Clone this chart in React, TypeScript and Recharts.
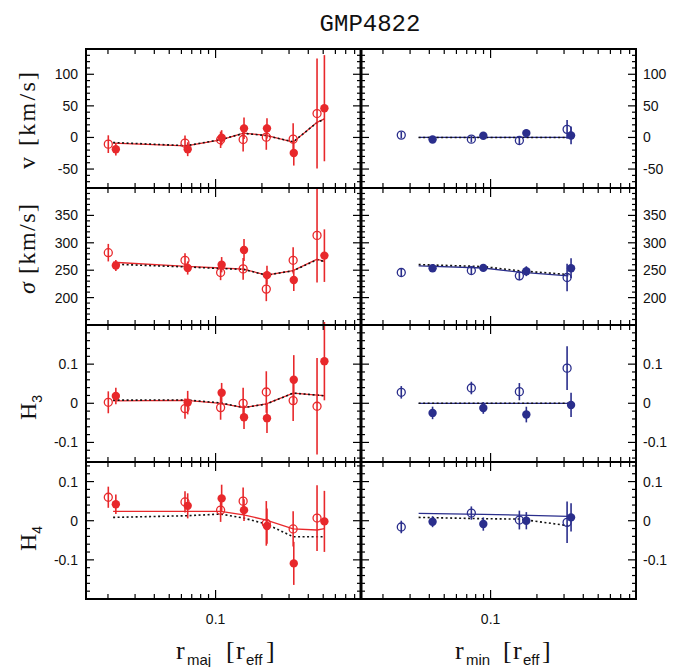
import React from 'react';
import { ComposedChart, Scatter, Line, XAxis, YAxis, ErrorBar } from 'recharts';

const RED = '#e8282b';
const BLUE = '#2a2e8c';

// ---------- x (radius) values ----------
const majOpenR = [0.0201, 0.0633, 0.1078, 0.151, 0.2135, 0.319, 0.456];
const majFillR = [0.0225, 0.0659, 0.1095, 0.153, 0.2157, 0.322, 0.509];
const majModelR = [0.0216, 0.0646, 0.108, 0.152, 0.2135, 0.319, 0.456, 0.509];
const minOpenR = [0.0263, 0.075, 0.1538, 0.314];
const minFillR = [0.042, 0.0897, 0.1707, 0.3332];
const minModelR = [0.0341, 0.0897, 0.1538, 0.32];

// ---------- major axis (red) ----------
const vMajOpen = [-10.6, -9, -3.7, -3.2, 0.5, -2.7, 37.8];
const vMajOpenErr = [14, 12, 13, 19, 20, 25, 87];
const vMajFill = [-18.6, -18.6, -0.5, 14.4, 14.4, -24.5, 46.3];
const vMajFillErr = [10, 11, 12, 17, 16, 20, 84];
const vMajModel = [-9, -13.3, -3.7, 6.9, 3.2, -7.4, 24, 29.3];
const vMajModelDot = [-8, -13, -3.5, 6.5, 3, -7, 23.5, 29];

const sMajOpen = [282, 268, 245.8, 252.4, 215.5, 268, 313.5];
const sMajOpenErr = [16, 13, 14, 20, 22, 24, 86];
const sMajFill = [258.5, 254, 260, 287, 241, 232, 276.6];
const sMajFillErr = [10, 12, 14, 20, 17, 20, 48];
const sMajModel = [264.5, 257, 254, 252, 241, 249.4, 270, 266];
const sMajModelDot = [261, 256, 253, 251.5, 241, 249, 269, 266];

const h3MajOpen = [0.0025, -0.0136, -0.011, 0, 0.0288, 0.0068, -0.0076];
const h3MajOpenErr = [0.028, 0.026, 0.031, 0.04, 0.053, 0.052, 0.123];
const h3MajFill = [0.0186, 0.0017, 0.027, -0.0356, -0.038, 0.06, 0.1076];
const h3MajFillErr = [0.021, 0.03, 0.025, 0.03, 0.038, 0.063, 0.1];
const h3MajModel = [0.006, 0.0076, 0, -0.011, -0.0017, 0.026, 0.021, 0.0195];
const h3MajModelDot = [0.008, 0.0085, 0.001, -0.011, -0.002, 0.026, 0.021, 0.019];

const h4MajOpen = [0.06, 0.048, 0.027, 0.05, -0.0068, -0.021, 0.0068];
const h4MajOpenErr = [0.027, 0.027, 0.03, 0.035, 0.057, 0.045, 0.084];
const h4MajFill = [0.042, 0.038, 0.057, 0.027, -0.0136, -0.109, -0.0017];
const h4MajFillErr = [0.025, 0.032, 0.035, 0.028, 0.045, 0.055, 0.078];
const h4MajModel = [0.0237, 0.0237, 0.0237, 0.015, 0.0017, -0.021, -0.0237, -0.02];
const h4MajModelDot = [0.0085, 0.0127, 0.017, 0.0068, -0.0085, -0.041, -0.041, -0.041];

// ---------- minor axis (blue) ----------
const vMinOpen = [3.7, -2.7, -4.8, 12.8];
const vMinOpenErr = [5, 5, 6, 15];
const vMinFill = [-3.2, 2.7, 6.9, 3.2];
const vMinFillErr = [3, 4, 4, 14];
const vMinModel = [0, 0, 0, 0];
const vMinModelDot = [0, 0, 0, 0];

const sMinOpen = [245.8, 249.4, 239.7, 236.7];
const sMinOpenErr = [7, 7, 8, 25];
const sMinFill = [253.6, 254.2, 248.2, 253.6];
const sMinFillErr = [5, 5, 9, 18];
const sMinModel = [258, 254, 246.5, 239.7];
const sMinModelDot = [260.3, 256.6, 249, 242.1];

const h3MinOpen = [0.028, 0.039, 0.0297, 0.0898];
const h3MinOpenErr = [0.016, 0.016, 0.022, 0.056];
const h3MinFill = [-0.0246, -0.0119, -0.0288, -0.0042];
const h3MinFillErr = [0.016, 0.015, 0.02, 0.031];
const h3MinModel = [0, 0, 0, 0];
const h3MinModelDot = [0, 0, 0, 0];

const h4MinOpen = [-0.016, 0.0195, 0.0017, -0.0042];
const h4MinOpenErr = [0.016, 0.017, 0.024, 0.053];
const h4MinFill = [-0.0025, -0.0085, 0, 0.0085];
const h4MinFillErr = [0.014, 0.017, 0.022, 0.036];
const h4MinModel = [0.0186, 0.0161, 0.0144, 0.011];
const h4MinModelDot = [0.0085, 0.0051, 0.0042, -0.0127];

// ---------- axes ----------
const X_DOMAIN = [0.0144, 0.88];
const xTicks = [0.02, 0.03, 0.04, 0.05, 0.06, 0.07, 0.08, 0.09, 0.1, 0.2, 0.3, 0.4, 0.5, 0.6, 0.7, 0.8];
const xMajorTicks = [0.1];
const xTickLabels = ['0.1'];

const vDomain = [-80, 140];
const vTicks = [-70, -60, -50, -40, -30, -20, -10, 0, 10, 20, 30, 40, 50, 60, 70, 80, 90, 100, 110, 120, 130];
const vMajorTicks = [-50, 0, 50, 100];
const vTickLabels = ['-50', '0', '50', '100'];

const sDomain = [150, 400];
const sTicks = [160, 170, 180, 190, 200, 210, 220, 230, 240, 250, 260, 270, 280, 290, 300, 310, 320, 330, 340, 350, 360, 370, 380, 390];
const sMajorTicks = [200, 250, 300, 350];
const sTickLabels = ['200', '250', '300', '350'];

const h3Domain = [-0.15, 0.2];
const h3Ticks = [-0.14, -0.12, -0.1, -0.08, -0.06, -0.04, -0.02, 0, 0.02, 0.04, 0.06, 0.08, 0.1, 0.12, 0.14, 0.16, 0.18];
const h4Domain = [-0.2, 0.15];
const h4Ticks = [-0.18, -0.16, -0.14, -0.12, -0.1, -0.08, -0.06, -0.04, -0.02, 0, 0.02, 0.04, 0.06, 0.08, 0.1, 0.12, 0.14];
const hMajorTicks = [-0.1, 0, 0.1];
const hTickLabels = ['-0.1', '0', '0.1'];

// ---------- layout ----------
const W = 690;
const H = 667;
const COLS = [{ x: 86, w: 275 }, { x: 361, w: 275 }];
const ROWS = [{ y: 49, h: 139 }, { y: 188, h: 137 }, { y: 325, h: 137 }, { y: 462, h: 137 }];
const TICK_FONT = '"Liberation Sans", Arial, sans-serif';
const SERIF = '"Liberation Serif", "Times New Roman", serif';

const pts = (rs: number[], ys: number[], es?: number[]) =>
  rs.map((r, i) => ({ r, y: ys[i], e: es ? es[i] : 0 }));

const majorIndex = (v: number, majors: number[]) => majors.findIndex((m) => Math.abs(m - v) < 1e-9);

function XTick(props: any) {
  const { x, y, payload, h, label } = props;
  const idx = majorIndex(payload.value, xMajorTicks);
  const len = idx >= 0 ? 9 : 5;
  return (
    <g>
      <line x1={x} x2={x} y1={y} y2={y - len} stroke="#000" strokeWidth={1.2} />
      <line x1={x} x2={x} y1={y - h} y2={y - h + len} stroke="#000" strokeWidth={1.2} />
      {label && idx >= 0 ? (
        <text x={x} y={y + 25} textAnchor="middle" fontFamily={TICK_FONT} fontSize={14} fill="#111">
          {xTickLabels[idx]}
        </text>
      ) : null}
    </g>
  );
}

function YTick(props: any) {
  const { x, y, payload, w, side, majors, labels } = props;
  const idx = majorIndex(payload.value, majors);
  const len = idx >= 0 ? 8 : 4;
  return (
    <g>
      <line x1={x} x2={x + len} y1={y} y2={y} stroke="#000" strokeWidth={1.2} />
      <line x1={x + w} x2={x + w - len} y1={y} y2={y} stroke="#000" strokeWidth={1.2} />
      {idx >= 0 && side === 'left' ? (
        <text x={x - 8} y={y + 5} textAnchor="end" fontFamily={TICK_FONT} fontSize={14} fill="#111">
          {labels[idx]}
        </text>
      ) : null}
      {idx >= 0 && side === 'right' ? (
        <text x={x + w + 7} y={y + 5} textAnchor="start" fontFamily={TICK_FONT} fontSize={14} fill="#111">
          {labels[idx]}
        </text>
      ) : null}
    </g>
  );
}

type PanelProps = {
  col: number;
  row: number;
  color: string;
  open: any[];
  fill: any[];
  model: any[];
  modelDot: any[];
  domain: number[];
  ticks: number[];
  majors: number[];
  labels: string[];
};

function Panel({ col, row, color, open, fill, model, modelDot, domain, ticks, majors, labels }: PanelProps) {
  const c = COLS[col];
  const rw = ROWS[row];
  // axes take 1px each (zero-size axes are not drawn)
  const margin = { left: c.x - 1, top: rw.y, right: W - c.x - c.w, bottom: H - rw.y - rw.h - 1 };
  const showX = row === 3;
  const side = col === 0 ? 'left' : 'right';
  return (
    <div style={{ position: 'absolute', left: 0, top: 0, width: W, height: H }}>
      <ComposedChart width={W} height={H} margin={margin}>
        <XAxis
          dataKey="r"
          type="number"
          scale="log"
          domain={X_DOMAIN}
          allowDataOverflow
          ticks={xTicks}
          interval={0}
          height={1}
          tickSize={0}
          tickMargin={0}
          axisLine={false}
          tickLine={false}
          tick={(p: any) => <XTick {...p} h={rw.h} label={showX} />}
        />
        <YAxis
          dataKey="y"
          type="number"
          domain={domain}
          allowDataOverflow
          ticks={ticks}
          interval={0}
          width={1}
          tickSize={0}
          tickMargin={0}
          axisLine={false}
          tickLine={false}
          tick={(p: any) => <YTick {...p} w={c.w} side={side} majors={majors} labels={labels} />}
        />
        <Line data={model} dataKey="y" type="linear" stroke={color} strokeWidth={1.3} dot={false} isAnimationActive={false} />
        <Line
          data={modelDot}
          dataKey="y"
          type="linear"
          stroke="#111"
          strokeWidth={1.6}
          strokeDasharray="2 2.5"
          dot={false}
          isAnimationActive={false}
        />
        <Scatter
          data={open}
          dataKey="y"
          isAnimationActive={false}
          shape={(p: any) => <circle cx={p.cx} cy={p.cy} r={4} fill="none" stroke={color} strokeWidth={1.3} />}
        >
          <ErrorBar dataKey="e" direction="y" width={0} stroke={color} strokeWidth={1.6} />
        </Scatter>
        <Scatter
          data={fill}
          dataKey="y"
          isAnimationActive={false}
          shape={(p: any) => <circle cx={p.cx} cy={p.cy} r={4.2} fill={color} stroke="none" />}
        >
          <ErrorBar dataKey="e" direction="y" width={0} stroke={color} strokeWidth={1.6} />
        </Scatter>
      </ComposedChart>
    </div>
  );
}

function RotText({ x, y, children, size, len, italic }: any) {
  return (
    <text
      x={x}
      y={y}
      transform={`rotate(-90 ${x} ${y})`}
      textAnchor="start"
      fontFamily={SERIF}
      fontSize={size}
      fontStyle={italic ? 'italic' : 'normal'}
      fill="#111"
      textLength={len}
      lengthAdjust={len ? 'spacing' : undefined}
    >
      {children}
    </text>
  );
}

export default function App() {
  const panels: PanelProps[] = [
    { col: 0, row: 0, color: RED, open: pts(majOpenR, vMajOpen, vMajOpenErr), fill: pts(majFillR, vMajFill, vMajFillErr), model: pts(majModelR, vMajModel), modelDot: pts(majModelR, vMajModelDot), domain: vDomain, ticks: vTicks, majors: vMajorTicks, labels: vTickLabels },
    { col: 1, row: 0, color: BLUE, open: pts(minOpenR, vMinOpen, vMinOpenErr), fill: pts(minFillR, vMinFill, vMinFillErr), model: pts(minModelR, vMinModel), modelDot: pts(minModelR, vMinModelDot), domain: vDomain, ticks: vTicks, majors: vMajorTicks, labels: vTickLabels },
    { col: 0, row: 1, color: RED, open: pts(majOpenR, sMajOpen, sMajOpenErr), fill: pts(majFillR, sMajFill, sMajFillErr), model: pts(majModelR, sMajModel), modelDot: pts(majModelR, sMajModelDot), domain: sDomain, ticks: sTicks, majors: sMajorTicks, labels: sTickLabels },
    { col: 1, row: 1, color: BLUE, open: pts(minOpenR, sMinOpen, sMinOpenErr), fill: pts(minFillR, sMinFill, sMinFillErr), model: pts(minModelR, sMinModel), modelDot: pts(minModelR, sMinModelDot), domain: sDomain, ticks: sTicks, majors: sMajorTicks, labels: sTickLabels },
    { col: 0, row: 2, color: RED, open: pts(majOpenR, h3MajOpen, h3MajOpenErr), fill: pts(majFillR, h3MajFill, h3MajFillErr), model: pts(majModelR, h3MajModel), modelDot: pts(majModelR, h3MajModelDot), domain: h3Domain, ticks: h3Ticks, majors: hMajorTicks, labels: hTickLabels },
    { col: 1, row: 2, color: BLUE, open: pts(minOpenR, h3MinOpen, h3MinOpenErr), fill: pts(minFillR, h3MinFill, h3MinFillErr), model: pts(minModelR, h3MinModel), modelDot: pts(minModelR, h3MinModelDot), domain: h3Domain, ticks: h3Ticks, majors: hMajorTicks, labels: hTickLabels },
    { col: 0, row: 3, color: RED, open: pts(majOpenR, h4MajOpen, h4MajOpenErr), fill: pts(majFillR, h4MajFill, h4MajFillErr), model: pts(majModelR, h4MajModel), modelDot: pts(majModelR, h4MajModelDot), domain: h4Domain, ticks: h4Ticks, majors: hMajorTicks, labels: hTickLabels },
    { col: 1, row: 3, color: BLUE, open: pts(minOpenR, h4MinOpen, h4MinOpenErr), fill: pts(minFillR, h4MinFill, h4MinFillErr), model: pts(minModelR, h4MinModel), modelDot: pts(minModelR, h4MinModelDot), domain: h4Domain, ticks: h4Ticks, majors: hMajorTicks, labels: hTickLabels },
  ];

  return (
    <div style={{ position: 'absolute', left: 0, top: 0, width: W, height: H, background: '#fff', overflow: 'hidden' }}>
      {panels.map((p, i) => (
        <Panel key={i} {...p} />
      ))}
      <svg width={W} height={H} style={{ position: 'absolute', left: 0, top: 0, pointerEvents: 'none' }}>
        {COLS.map((c, ci) =>
          ROWS.map((r, ri) => (
            <rect key={ci + '-' + ri} x={c.x} y={r.y} width={c.w} height={r.h} fill="none" stroke="#000" strokeWidth={2} />
          ))
        )}
        <line x1={361} x2={361} y1={49} y2={599} stroke="#000" strokeWidth={3} />
        <text x={370} y={31} textAnchor="middle" fontFamily='"Liberation Mono", "Courier New", monospace' fontSize={24} fill="#111">
          GMP4822
        </text>
        <RotText x={35} y={169} size={24}>v</RotText>
        <RotText x={35} y={146} size={24} len={74}>[km/s]</RotText>
        <RotText x={35} y={294} size={24} italic>σ</RotText>
        <RotText x={35} y={274} size={24} len={70}>[km/s]</RotText>
        <text x={36} y={420} transform="rotate(-90 36 420)" textAnchor="start" fontFamily={SERIF} fontSize={24} fill="#111">
          H<tspan fontFamily={TICK_FONT} fontSize={14} dy={6}>3</tspan>
        </text>
        <text x={36} y={551} transform="rotate(-90 36 551)" textAnchor="start" fontFamily={SERIF} fontSize={24} fill="#111">
          H<tspan fontFamily={TICK_FONT} fontSize={14} dy={6}>4</tspan>
        </text>
        <text y={659} fontFamily={SERIF} fontSize={26} fill="#111">
          <tspan x={176}>r</tspan>
          <tspan x={187} dy={6} fontFamily={TICK_FONT} fontSize={15}>maj</tspan>
          <tspan x={226} dy={-6}>[</tspan>
          <tspan x={236}>r</tspan>
          <tspan x={246} dy={6} fontFamily={TICK_FONT} fontSize={15}>eff</tspan>
          <tspan x={266} dy={-6}>]</tspan>
        </text>
        <text y={659} fontFamily={SERIF} fontSize={26} fill="#111">
          <tspan x={455}>r</tspan>
          <tspan x={466} dy={6} fontFamily={TICK_FONT} fontSize={15}>min</tspan>
          <tspan x={503} dy={-6}>[</tspan>
          <tspan x={513}>r</tspan>
          <tspan x={523} dy={6} fontFamily={TICK_FONT} fontSize={15}>eff</tspan>
          <tspan x={542} dy={-6}>]</tspan>
        </text>
      </svg>
    </div>
  );
}
